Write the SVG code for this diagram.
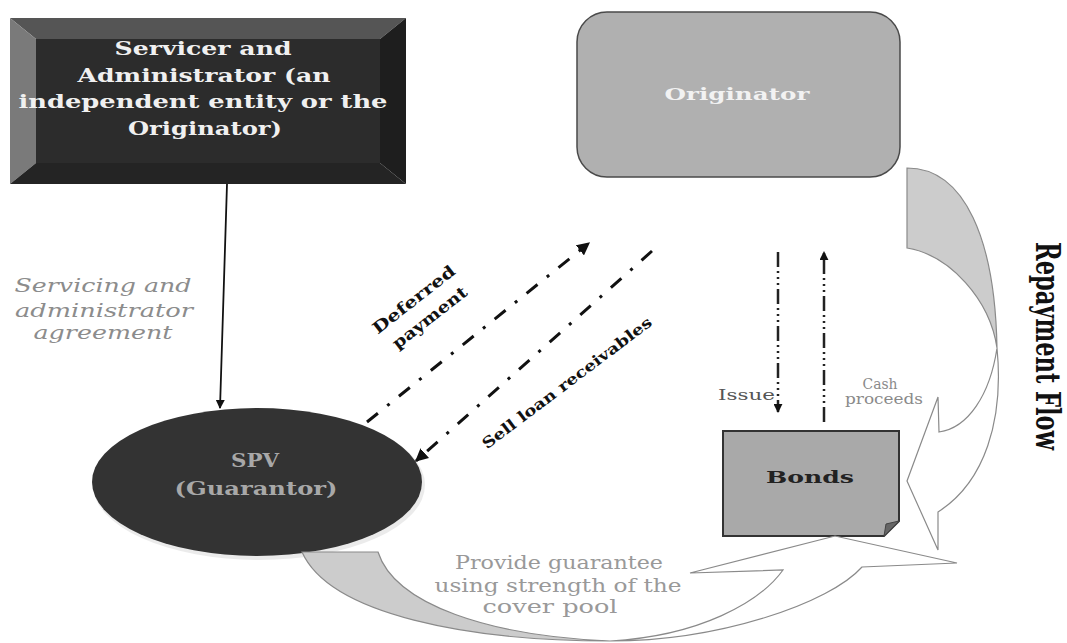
<svg xmlns="http://www.w3.org/2000/svg" width="1067" height="643" viewBox="0 0 1067 643">
<defs>
<marker id="ah" viewBox="0 0 10 10" refX="9" refY="5" markerWidth="9" markerHeight="9" markerUnits="userSpaceOnUse" orient="auto">
<path d="M0,0 L10,5 L0,10 z" fill="#111"/>
</marker>
<marker id="ahb" viewBox="0 0 10 10" refX="9" refY="5" markerWidth="13" markerHeight="13" markerUnits="userSpaceOnUse" orient="auto">
<path d="M0,0 L10,5 L0,10 z" fill="#111"/>
</marker>
</defs>
<style>
.b{font-family:"DejaVu Serif","Liberation Serif",serif;font-weight:bold}
.r{font-family:"DejaVu Serif","Liberation Serif",serif}
.dd{fill:none;stroke:#111;stroke-width:3;stroke-dasharray:14 12 3 12}
.vd{fill:none;stroke:#222;stroke-width:2.5;stroke-dasharray:15 4 2 4 2 4 2 4}
.ribbon{stroke:#8a8a8a;stroke-width:1.2}
</style>
<rect width="1067" height="643" fill="#fff"/>

<g id="servicer">
<polygon points="10,18 406,18 380,39 36,39" fill="#555"/>
<polygon points="10,18 36,39 36,163 10,184" fill="#7a7a7a"/>
<polygon points="406,18 406,184 380,163 380,39" fill="#1e1e1e"/>
<polygon points="10,184 406,184 380,163 36,163" fill="#242424"/>
<rect x="36" y="39" width="344" height="124" fill="#2c2c2c"/>
<g class="b" font-size="18" fill="#f0f0f0" text-anchor="middle">
<text x="203" y="55" textLength="177" lengthAdjust="spacingAndGlyphs">Servicer and</text>
<text x="204" y="82" textLength="253" lengthAdjust="spacingAndGlyphs">Administrator (an</text>
<text x="203" y="108" textLength="369" lengthAdjust="spacingAndGlyphs">independent entity or the</text>
<text x="205" y="135" textLength="154" lengthAdjust="spacingAndGlyphs">Originator)</text>
</g>
</g>

<g id="originator">
<rect x="577" y="12" width="323" height="165" rx="30" ry="30" fill="#b0b0b0" stroke="#4a4a4a" stroke-width="1.5"/>
<text class="b" x="737" y="100" font-size="17" fill="#f2f2f2" text-anchor="middle" textLength="145" lengthAdjust="spacingAndGlyphs">Originator</text>
</g>

<g id="spv">
<ellipse cx="259" cy="485" rx="166" ry="75" fill="#ddd" opacity="0.6"/>
<ellipse cx="257" cy="482" rx="165" ry="74" fill="#333"/>
<g class="b" font-size="18" fill="#a8a8a8" text-anchor="middle">
<text x="255" y="467" textLength="48" lengthAdjust="spacingAndGlyphs">SPV</text>
<text x="256" y="495" textLength="163" lengthAdjust="spacingAndGlyphs">(Guarantor)</text>
</g>
</g>

<g id="bonds">
<path d="M723,431 L899,431 L899,521 L884,536 L723,536 Z" fill="#a9a9a9" stroke="#333" stroke-width="2"/>
<path d="M899,521 L884,536 L886,524 Z" fill="#666" stroke="#444" stroke-width="1"/>
<text class="b" x="810" y="483" font-size="17" fill="#222" text-anchor="middle" textLength="88" lengthAdjust="spacingAndGlyphs">Bonds</text>
</g>

<g id="connectors">
<line x1="227" y1="184" x2="220" y2="408" stroke="#111" stroke-width="1.8" marker-end="url(#ah)"/>
<g class="r" font-style="italic" font-size="18" fill="#8c8c8c" text-anchor="middle">
<text x="103" y="292" textLength="177" lengthAdjust="spacingAndGlyphs">Servicing and</text>
<text x="104" y="317" textLength="178" lengthAdjust="spacingAndGlyphs">administrator</text>
<text x="103" y="339" textLength="139" lengthAdjust="spacingAndGlyphs">agreement</text>
</g>

<line class="dd" x1="367" y1="422" x2="589" y2="243" marker-end="url(#ahb)"/>
<line class="dd" x1="652" y1="251" x2="416" y2="461" marker-end="url(#ahb)"/>
<g class="b" font-size="16" fill="#111" text-anchor="middle">
<text transform="translate(414,300) rotate(-38)" y="5" textLength="100" lengthAdjust="spacingAndGlyphs">Deferred</text>
<text transform="translate(430,318) rotate(-38)" y="5" textLength="90" lengthAdjust="spacingAndGlyphs">payment</text>
<text transform="translate(567,383) rotate(-37)" y="5" font-size="15" textLength="208" lengthAdjust="spacingAndGlyphs">Sell loan receivables</text>
</g>

<line class="vd" x1="778" y1="252" x2="778" y2="412" marker-end="url(#ah)"/>
<line class="vd" x1="824" y1="422" x2="824" y2="252" marker-end="url(#ah)"/>
<text class="r" x="718" y="400" font-size="14" fill="#555" textLength="57" lengthAdjust="spacingAndGlyphs">Issue</text>
<g class="r" font-size="14" fill="#8a8a8a" text-anchor="middle">
<text x="880" y="389" textLength="35" lengthAdjust="spacingAndGlyphs">Cash</text>
<text x="884" y="404" textLength="78" lengthAdjust="spacingAndGlyphs">proceeds</text>
</g>

<g id="repayment-arrow">
<path class="ribbon" d="M907,168 C965,168 995,240 997,348 C990,300 950,255 907,248 Z" fill="#cccccc"/>
<path class="ribbon" d="M997,348 C990,395 968,428 939,432 L938,397 L907,481 L938,550 L938,512 C985,482 1004,420 997,348 Z" fill="#fff"/>
</g>
<text class="b" transform="translate(1036,242) rotate(90)" font-size="33" fill="#111" textLength="208" lengthAdjust="spacingAndGlyphs">Repayment Flow</text>

<g id="guarantee-arrow">
<path class="ribbon" d="M302,552 L378,552 C395,605 490,636 610,641 C470,641 330,615 302,552 Z" fill="#cccccc"/>
<path class="ribbon" d="M610,641 C700,636 760,602 783,570 L690,573 L835,536 L957,563 L862,567 C830,603 720,641 610,641 Z" fill="#fff"/>
</g>
<g class="r" font-size="18" fill="#999" text-anchor="middle">
<text x="559" y="569" textLength="208" lengthAdjust="spacingAndGlyphs">Provide guarantee</text>
<text x="558" y="592" textLength="247" lengthAdjust="spacingAndGlyphs">using strength of the</text>
<text x="550" y="613" textLength="135" lengthAdjust="spacingAndGlyphs">cover pool</text>
</g>
</g>
</svg>
